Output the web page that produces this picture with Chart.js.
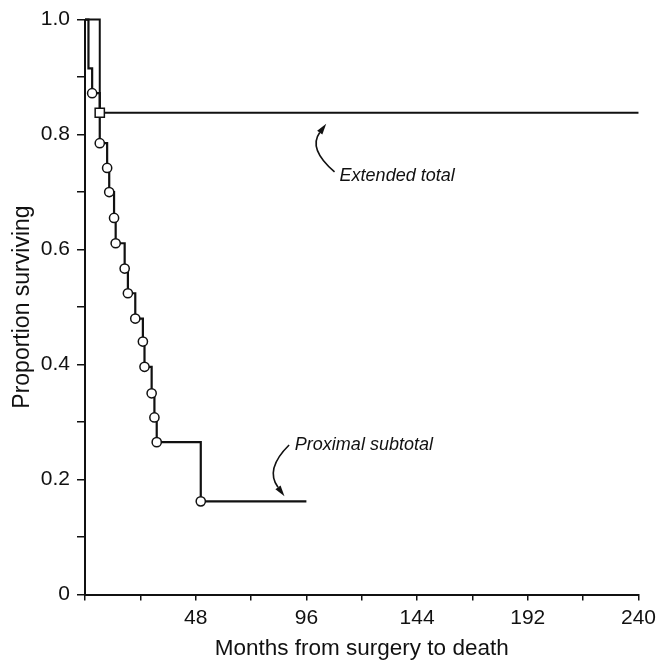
<!DOCTYPE html>
<html>
<head>
<meta charset="utf-8">
<script src="https://cdn.jsdelivr.net/npm/chart.js@4"></script>
<style>
  html, body { margin: 0; padding: 0; background: #fff; }
  #wrap { width: 661px; height: 662px; }
</style>
</head>
<body>
<div id="wrap"><canvas id="mycanvas" width="661" height="662"></canvas></div>
<script>
// survival curves (months, proportion surviving)
var proxMonths = [0, 1.5, 3.1, 6.4, 9.6, 10.5, 12.6, 13.3, 17.2, 18.6, 21.8, 25.1, 25.8, 28.9, 30.1, 31.1, 50.2, 96];
var proxSurv   = [1.0, 0.915, 0.872, 0.785, 0.742, 0.70, 0.655, 0.611, 0.567, 0.524, 0.48, 0.44, 0.396, 0.35, 0.308, 0.265, 0.162, 0.162];
var extMonths  = [0, 6.4, 240];
var extSurv    = [1.0, 0.838, 0.838];

var xTickStep = 24;      // minor ticks every 24 months, labels every 48
var yTickStep = 0.1;     // minor ticks every 0.1, labels every 0.2

var xTitle = 'Months from surgery to death';
var yTitle = 'Proportion surviving';
var extLabel = 'Extended total';
var proxLabel = 'Proximal subtotal';

function toPoints(xs, ys) {
  var pts = [];
  for (var i = 0; i < xs.length; i++) pts.push({x: xs[i], y: ys[i]});
  return pts;
}

var INK = '#111';

// curved arrows + italic labels (positions in data units)
var notes = [
  {text: extLabel, tx: 110.4, ty: 0.720, from: [108.2, 0.735], ctrl: [96.6, 0.775], to: [104.6, 0.819]},
  {text: proxLabel, tx: 91.0, ty: 0.251, from: [88.5, 0.26], ctrl: [77.9, 0.218], to: [86.5, 0.171]}
];

var notePlugin = {
  id: 'notes',
  afterDatasetsDraw: function(chart) {
    var ctx = chart.ctx, xs = chart.scales.x, ys = chart.scales.y;
    ctx.save();
    ctx.fillStyle = INK;
    ctx.strokeStyle = INK;
    ctx.font = 'italic 18px "Liberation Sans Narrow", "Arial Narrow", "Liberation Sans", sans-serif';
    ctx.textBaseline = 'alphabetic';
    notes.forEach(function(n) {
      ctx.fillText(n.text, xs.getPixelForValue(n.tx), ys.getPixelForValue(n.ty));
      var sx = xs.getPixelForValue(n.from[0]), sy = ys.getPixelForValue(n.from[1]);
      var cx = xs.getPixelForValue(n.ctrl[0]), cy = ys.getPixelForValue(n.ctrl[1]);
      var ex = xs.getPixelForValue(n.to[0]), ey = ys.getPixelForValue(n.to[1]);
      var ang = Math.atan2(ey - cy, ex - cx);
      var len = 11, half = 3.2;
      var bx = ex - Math.cos(ang) * len, by = ey - Math.sin(ang) * len;
      ctx.lineWidth = 1.6;
      ctx.beginPath();
      ctx.moveTo(sx, sy);
      ctx.quadraticCurveTo(cx, cy, bx, by);
      ctx.stroke();
      ctx.beginPath();
      ctx.moveTo(ex, ey);
      ctx.lineTo(bx + Math.sin(ang) * half, by - Math.cos(ang) * half);
      ctx.lineTo(bx - Math.sin(ang) * half, by + Math.cos(ang) * half);
      ctx.closePath();
      ctx.fill();
    });
    ctx.restore();
  }
};

var tickFont = {family: '"Liberation Sans Narrow", "Arial Narrow", "Liberation Sans", sans-serif', size: 21};

new Chart(document.getElementById('mycanvas'), {
  type: 'line',
  data: {
    datasets: [
      {
        label: extLabel,
        data: toPoints(extMonths, extSurv),
        stepped: 'before',
        borderColor: INK,
        borderWidth: 2,
        fill: false,
        clip: false,
        pointStyle: 'rect',
        pointRadius: function(c) { return c.dataIndex === 1 ? 6.5 : 0; },
        pointBackgroundColor: '#fff',
        pointBorderColor: INK,
        pointBorderWidth: 1.5
      },
      {
        label: proxLabel,
        data: toPoints(proxMonths, proxSurv),
        stepped: 'before',
        borderColor: INK,
        borderWidth: 2.2,
        fill: false,
        clip: false,
        pointStyle: 'circle',
        pointRadius: function(c) {
          var i = c.dataIndex;
          return (i < 2 || i === proxMonths.length - 1) ? 0 : 4.6;
        },
        pointBackgroundColor: '#fff',
        pointBorderColor: INK,
        pointBorderWidth: 1.5
      }
    ]
  },
  options: {
    responsive: false,
    animation: false,
    events: [],
    layout: {padding: {top: 19, right: 18, left: 0, bottom: 0}},
    scales: {
      x: {
        type: 'linear',
        min: 0,
        max: 240,
        afterFit: function(s) { s.height = 67.5; },
        ticks: {
          stepSize: xTickStep,
          autoSkip: false,
          maxRotation: 0,
          padding: 5,
          color: INK,
          font: tickFont,
          callback: function(v) { return (v > 0 && v % 48 === 0) ? String(v) : ''; }
        },
        grid: {drawOnChartArea: false, drawTicks: true, tickLength: 6, color: INK, lineWidth: 1.5},
        border: {display: true, color: INK, width: 2},
        title: {
          display: true,
          text: xTitle,
          color: INK,
          padding: {top: 0, bottom: 0},
          font: {family: '"Liberation Sans", Arial, sans-serif', size: 22.5}
        }
      },
      y: {
        min: 0,
        max: 1,
        afterFit: function(s) { s.width = 85; },
        ticks: {
          stepSize: yTickStep,
          autoSkip: false,
          padding: 7,
          color: INK,
          font: tickFont,
          callback: function(v) {
            var k = Math.round(v * 10);
            if (k % 2 !== 0) return '';
            return k === 0 ? '0' : (k / 10).toFixed(1);
          }
        },
        grid: {drawOnChartArea: false, drawTicks: true, tickLength: 8, color: INK, lineWidth: 1.5},
        border: {display: true, color: INK, width: 2},
        title: {
          display: true,
          text: yTitle,
          color: INK,
          padding: {top: 9, bottom: 0},
          font: {family: '"Liberation Sans", Arial, sans-serif', size: 23}
        }
      }
    },
    plugins: {
      legend: {display: false},
      tooltip: {enabled: false},
      title: {display: false}
    }
  },
  plugins: [notePlugin]
});
</script>
</body>
</html>
